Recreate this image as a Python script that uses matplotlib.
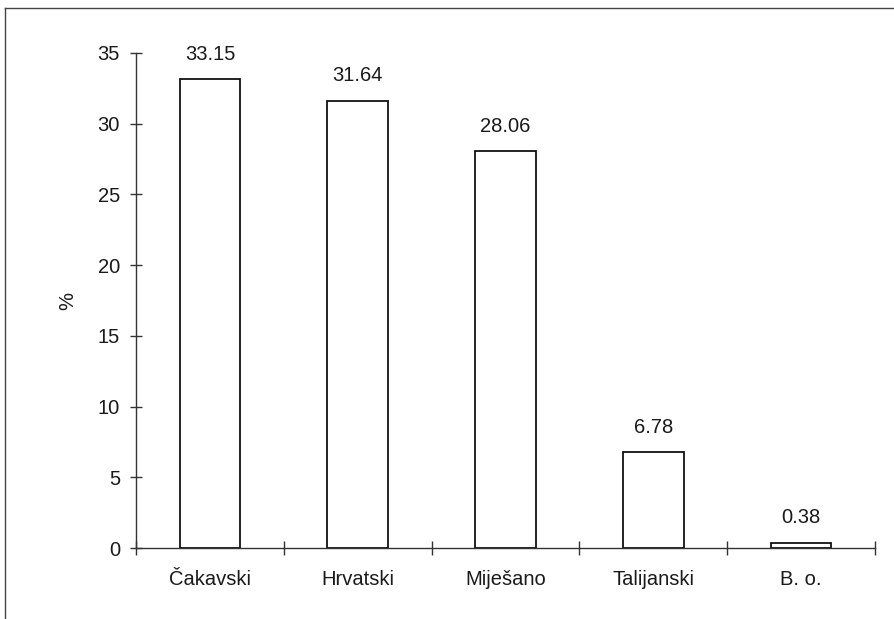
import numpy as np
import matplotlib
matplotlib.use("Agg")
import matplotlib.pyplot as plt
from matplotlib.lines import Line2D

plt.rcParams['font.family'] = ['Liberation Sans', 'DejaVu Sans']

# data
categories = ['Čakavski', 'Hrvatski', 'Miješano', 'Talijanski', 'B. o.']
values = [33.15, 31.64, 28.06, 6.78, 0.38]
y_ticks = [0, 5, 10, 15, 20, 25, 30, 35]

fig = plt.figure(figsize=(8.95, 6.19), dpi=100)
ax = fig.add_axes([136 / 895, 1 - 548 / 619, (875 - 136) / 895, (548 - 53) / 619])

x = np.arange(len(categories))
ax.bar(x, values, width=0.41, color='white', edgecolor='#111111', linewidth=1.3)

for xi, v in zip(x, values):
    ax.annotate(f'{v:.2f}', (xi, v), xytext=(0, 11), textcoords='offset points',
                ha='center', va='bottom', fontsize=14.5, color='#1a1a1a')

ax.set_xlim(-0.5, len(categories) - 0.5)
ax.set_ylim(0, 35)
ax.set_yticks(y_ticks)
ax.set_yticklabels([str(t) for t in y_ticks])

# category names in the middle, tick marks at the boundaries
ax.set_xticks(x)
ax.set_xticklabels(categories)
ax.set_xticks(np.arange(len(categories) + 1) - 0.5, minor=True)
ax.tick_params(axis='x', which='major', length=0, pad=16, labelsize=14.5, colors='#1a1a1a')
ax.tick_params(axis='x', which='minor', direction='inout', length=10, width=1.0, color='#333333')
ax.tick_params(axis='y', direction='inout', length=9, width=1.0, pad=7,
               labelsize=14.5, color='#333333', labelcolor='#1a1a1a')

for side in ['top', 'right']:
    ax.spines[side].set_visible(False)
for side in ['left', 'bottom']:
    ax.spines[side].set_color('#333333')
    ax.spines[side].set_linewidth(1.0)

ax.set_ylabel('%', fontsize=14.5, color='#1a1a1a')
ax.yaxis.set_label_coords(-59 / 739, 0.5)

# scanned frame: top and left edges only
fig.add_artist(Line2D([5 / 895, 1], [1 - 8 / 619, 1 - 8 / 619], transform=fig.transFigure,
                      color='#444444', linewidth=1.0))
fig.add_artist(Line2D([5 / 895, 5 / 895], [0, 1 - 8 / 619], transform=fig.transFigure,
                      color='#444444', linewidth=1.0))

fig.savefig('out.png', dpi=100)
